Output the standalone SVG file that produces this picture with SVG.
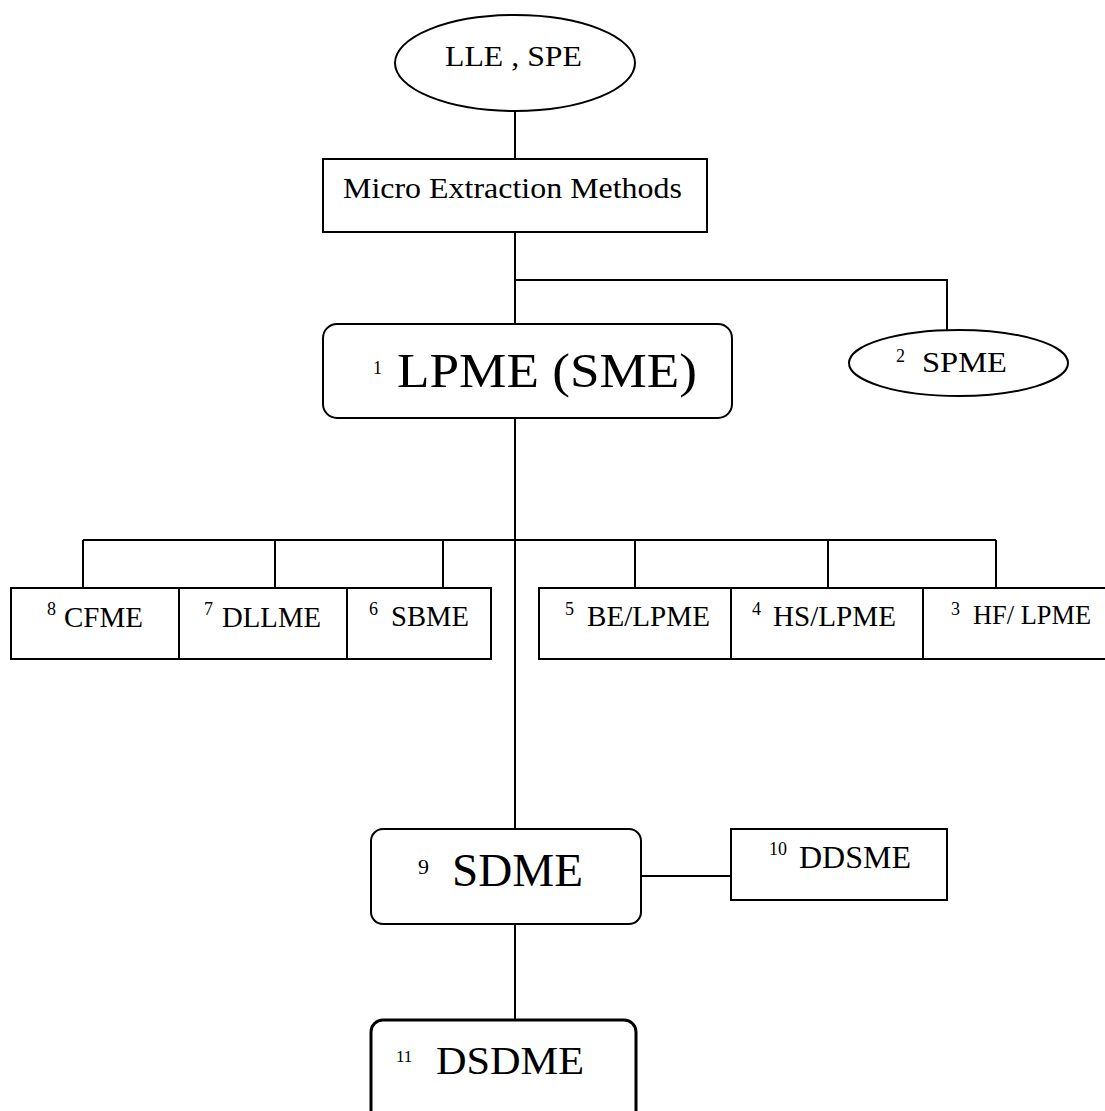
<svg xmlns="http://www.w3.org/2000/svg" width="1105" height="1111" viewBox="0 0 1105 1111" font-family="'Liberation Serif', 'Times New Roman', Times, serif">
<style>
  .shape { fill: #ffffff; stroke: #000000; stroke-width: 2; }
  .thick { stroke-width: 3; }
  .conn { fill: none; stroke: #000000; stroke-width: 2; }
  text { font-family: 'Liberation Serif', 'Times New Roman', Times, serif; fill: #000000; }
  .sup { font-size: 18px; }
  .box { font-size: 29px; }
</style>
<rect width="1105" height="1111" fill="#ffffff"/>
<g id="connectors">
  <line class="conn" x1="515" y1="111" x2="515" y2="159"/>
  <line class="conn" x1="515" y1="232" x2="515" y2="324"/>
  <polyline class="conn" points="515,280 947,280 947,331"/>
  <line class="conn" x1="515" y1="418" x2="515" y2="829"/>
  <line class="conn" x1="83" y1="540" x2="996" y2="540"/>
  <line class="conn" x1="83" y1="540" x2="83" y2="588"/>
  <line class="conn" x1="275" y1="540" x2="275" y2="588"/>
  <line class="conn" x1="443" y1="540" x2="443" y2="588"/>
  <line class="conn" x1="635" y1="540" x2="635" y2="588"/>
  <line class="conn" x1="828" y1="540" x2="828" y2="588"/>
  <line class="conn" x1="996" y1="540" x2="996" y2="588"/>
  <line class="conn" x1="636" y1="876" x2="731" y2="876"/>
  <line class="conn" x1="515" y1="924" x2="515" y2="1020"/>
</g>
<g id="node-lle-spe">
  <ellipse class="shape" cx="515" cy="63" rx="120" ry="48"/>
  <text x="445" y="66" font-size="29" textLength="137" lengthAdjust="spacingAndGlyphs">LLE , SPE</text>
</g>
<g id="node-micro">
  <rect class="shape" x="323" y="159" width="384" height="73"/>
  <text x="343" y="198" font-size="29" textLength="339" lengthAdjust="spacingAndGlyphs">Micro Extraction Methods</text>
</g>
<g id="node-lpme">
  <rect class="shape" x="323" y="324" width="409" height="94" rx="14" ry="14"/>
  <text x="373" y="374" font-size="18">1</text>
  <text x="397" y="387" font-size="49" textLength="300" lengthAdjust="spacingAndGlyphs">LPME (SME)</text>
</g>
<g id="node-spme">
  <ellipse class="shape" cx="958.5" cy="363" rx="109.5" ry="33"/>
  <text x="896" y="362" font-size="18">2</text>
  <text x="922" y="372" font-size="30" textLength="85" lengthAdjust="spacingAndGlyphs">SPME</text>
</g>
<g id="node-cfme">
  <rect class="shape" x="11" y="588" width="168" height="71"/>
  <text class="sup" x="47" y="615">8</text>
  <text class="box" x="64" y="627" textLength="79" lengthAdjust="spacingAndGlyphs">CFME</text>
</g>
<g id="node-dllme">
  <rect class="shape" x="179" y="588" width="168" height="71"/>
  <text class="sup" x="204" y="615">7</text>
  <text class="box" x="222" y="627" textLength="99" lengthAdjust="spacingAndGlyphs">DLLME</text>
</g>
<g id="node-sbme">
  <rect class="shape" x="347" y="588" width="144" height="71"/>
  <text class="sup" x="369" y="615">6</text>
  <text class="box" x="391" y="626" textLength="78" lengthAdjust="spacingAndGlyphs">SBME</text>
</g>
<g id="node-be-lpme">
  <rect class="shape" x="539" y="588" width="192" height="71"/>
  <text class="sup" x="565" y="615">5</text>
  <text class="box" x="587" y="626" textLength="123" lengthAdjust="spacingAndGlyphs">BE/LPME</text>
</g>
<g id="node-hs-lpme">
  <rect class="shape" x="731" y="588" width="192" height="71"/>
  <text class="sup" x="752" y="615">4</text>
  <text class="box" x="773" y="626" textLength="123" lengthAdjust="spacingAndGlyphs">HS/LPME</text>
</g>
<g id="node-hf-lpme">
  <rect class="shape" x="923" y="588" width="190" height="71"/>
  <text class="sup" x="951" y="615">3</text>
  <text x="973" y="624" font-size="26.5" textLength="118" lengthAdjust="spacingAndGlyphs">HF/ LPME</text>
</g>
<g id="node-sdme">
  <rect class="shape" x="371" y="829" width="270" height="95" rx="12" ry="12"/>
  <text x="418" y="874" font-size="22">9</text>
  <text x="452" y="886" font-size="47" textLength="131" lengthAdjust="spacingAndGlyphs">SDME</text>
</g>
<g id="node-ddsme">
  <rect class="shape" x="731" y="829" width="216" height="71"/>
  <text x="769" y="855" font-size="18">10</text>
  <text x="799" y="868" font-size="31" textLength="112" lengthAdjust="spacingAndGlyphs">DDSME</text>
</g>
<g id="node-dsdme">
  <rect class="shape thick" x="371" y="1020" width="265" height="110" rx="12" ry="12"/>
  <text x="396" y="1062" font-size="17">11</text>
  <text x="436" y="1074" font-size="41" textLength="148" lengthAdjust="spacingAndGlyphs">DSDME</text>
</g>
</svg>
